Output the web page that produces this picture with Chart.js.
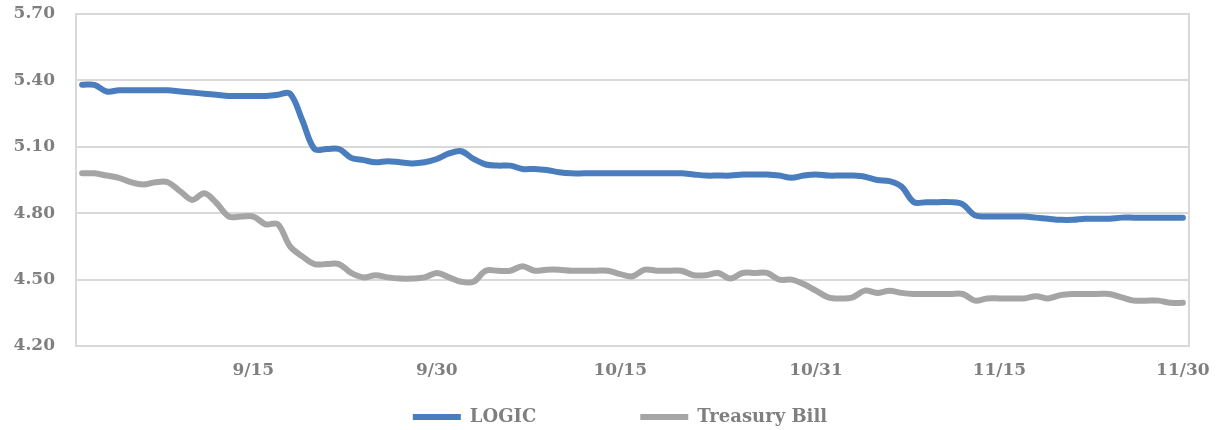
<!DOCTYPE html>
<html>
<head>
<meta charset="utf-8">
<script src="https://cdn.jsdelivr.net/npm/chart.js@4.4.1/dist/chart.umd.min.js"></script>
<style>
  html, body { margin: 0; padding: 0; background: #fff; }
  #wrap { width: 1217px; height: 430px; position: relative; }
</style>
</head>
<body>
<div id="wrap"><canvas id="grafico"></canvas></div>
<script>
// daily dates, 9/1 - 11/30
const datas = [
  '9/1','9/2','9/3','9/4','9/5','9/6','9/7','9/8','9/9','9/10',
  '9/11','9/12','9/13','9/14','9/15','9/16','9/17','9/18','9/19','9/20',
  '9/21','9/22','9/23','9/24','9/25','9/26','9/27','9/28','9/29','9/30',
  '10/1','10/2','10/3','10/4','10/5','10/6','10/7','10/8','10/9','10/10',
  '10/11','10/12','10/13','10/14','10/15','10/16','10/17','10/18','10/19','10/20',
  '10/21','10/22','10/23','10/24','10/25','10/26','10/27','10/28','10/29','10/30',
  '10/31','11/1','11/2','11/3','11/4','11/5','11/6','11/7','11/8','11/9',
  '11/10','11/11','11/12','11/13','11/14','11/15','11/16','11/17','11/18','11/19',
  '11/20','11/21','11/22','11/23','11/24','11/25','11/26','11/27','11/28','11/29',
  '11/30'
];

const logic = [
  5.38, 5.38, 5.35, 5.355, 5.355, 5.355, 5.355, 5.355, 5.35, 5.345,
  5.34, 5.335, 5.33, 5.33, 5.33, 5.33, 5.335, 5.34, 5.22, 5.09,
  5.09, 5.09, 5.05, 5.04, 5.03, 5.035, 5.03, 5.025, 5.03, 5.045,
  5.07, 5.08, 5.045, 5.02, 5.015, 5.015, 5.00, 5.00, 4.995, 4.985,
  4.98, 4.98, 4.98, 4.98, 4.98, 4.98, 4.98, 4.98, 4.98, 4.98,
  4.975, 4.97, 4.97, 4.97, 4.975, 4.975, 4.975, 4.97, 4.96, 4.97,
  4.975, 4.97, 4.97, 4.97, 4.965, 4.95, 4.945, 4.92, 4.85, 4.85,
  4.85, 4.85, 4.84, 4.79, 4.785, 4.785, 4.785, 4.785, 4.78, 4.775,
  4.77, 4.77, 4.775, 4.775, 4.775, 4.78, 4.78, 4.78, 4.78, 4.78,
  4.78
];

const tbill = [
  4.98, 4.98, 4.97, 4.96, 4.94, 4.93, 4.94, 4.94, 4.90, 4.86,
  4.89, 4.845, 4.785, 4.785, 4.785, 4.75, 4.75, 4.65, 4.605, 4.57,
  4.57, 4.57, 4.53, 4.51, 4.52, 4.51, 4.505, 4.505, 4.51, 4.53,
  4.51, 4.49, 4.49, 4.54, 4.54, 4.54, 4.56, 4.54, 4.545, 4.545,
  4.54, 4.54, 4.54, 4.54, 4.525, 4.515, 4.545, 4.54, 4.54, 4.54,
  4.52, 4.52, 4.53, 4.505, 4.53, 4.53, 4.53, 4.50, 4.50, 4.48,
  4.45, 4.42, 4.415, 4.42, 4.45, 4.44, 4.45, 4.44, 4.435, 4.435,
  4.435, 4.435, 4.435, 4.405, 4.415, 4.415, 4.415, 4.415, 4.425, 4.415,
  4.43, 4.435, 4.435, 4.435, 4.435, 4.42, 4.405, 4.405, 4.405, 4.395,
  4.395
];

const rotulosX = ['9/15', '9/30', '10/15', '10/31', '11/15', '11/30'];

const fonteSerif = "'DejaVu Serif', serif";
const cinzaTexto = '#7f7f7f';
const cinzaGrade = '#d9d9d9';

// moldura em volta da area do grafico
const moldura = {
  id: 'moldura',
  beforeDatasetsDraw(chart) {
    const { ctx, chartArea: a } = chart;
    ctx.save();
    ctx.strokeStyle = cinzaGrade;
    ctx.lineWidth = 2;
    ctx.strokeRect(a.left, a.top, a.right - a.left, a.bottom - a.top);
    ctx.restore();
  }
};

new Chart(document.getElementById('grafico'), {
  type: 'line',
  data: {
    labels: datas,
    datasets: [
      {
        label: 'LOGIC' + '\u00A0'.repeat(15),
        data: logic,
        borderColor: '#4a7dbd',
        backgroundColor: '#4a7dbd',
        borderWidth: 6,
        borderCapStyle: 'round',
        borderJoinStyle: 'round',
        tension: 0.35,
        pointRadius: 0,
        pointStyle: 'line'
      },
      {
        label: 'Treasury Bill' + '\u00A0'.repeat(4),
        data: tbill,
        borderColor: '#a5a5a5',
        backgroundColor: '#a5a5a5',
        borderWidth: 6,
        borderCapStyle: 'round',
        borderJoinStyle: 'round',
        tension: 0.35,
        pointRadius: 0,
        pointStyle: 'line'
      }
    ]
  },
  options: {
    responsive: true,
    maintainAspectRatio: false,
    animation: false,
    layout: {
      padding: { top: 14, right: 28, bottom: 0, left: 0 }
    },
    plugins: {
      tooltip: { enabled: false },
      legend: {
        position: 'bottom',
        fullSize: false,
        maxHeight: 32,
        labels: {
          usePointStyle: true,
          pointStyleWidth: 48,
          padding: 10,
          color: cinzaTexto,
          font: { family: fonteSerif, size: 18, weight: 'bold' }
        }
      }
    },
    scales: {
      x: {
        offset: true,
        grid: { display: false },
        border: { display: false },
        afterFit(scale) { scale.height = 52; },
        ticks: {
          autoSkip: false,
          maxRotation: 0,
          padding: 6,
          color: cinzaTexto,
          font: { family: fonteSerif, size: 17, weight: 'bold' },
          callback: function(value) {
            const rotulo = this.getLabelForValue(value);
            return rotulosX.includes(rotulo) ? rotulo : '';
          }
        }
      },
      y: {
        min: 4.2,
        max: 5.7,
        grid: { color: cinzaGrade, lineWidth: 2, drawTicks: false },
        border: { display: false },
        afterFit(scale) {
          scale.width = 76;
          // o padding dos ticks nao deve empurrar o topo da area
          scale.paddingTop = 10;
          scale.paddingBottom = 10;
        },
        ticks: {
          stepSize: 0.3,
          padding: 21,
          color: cinzaTexto,
          font: { family: fonteSerif, size: 17, weight: 'bold' },
          callback: function(value) {
            return value.toFixed(2);
          }
        }
      }
    }
  },
  plugins: [moldura]
});
</script>
</body>
</html>
